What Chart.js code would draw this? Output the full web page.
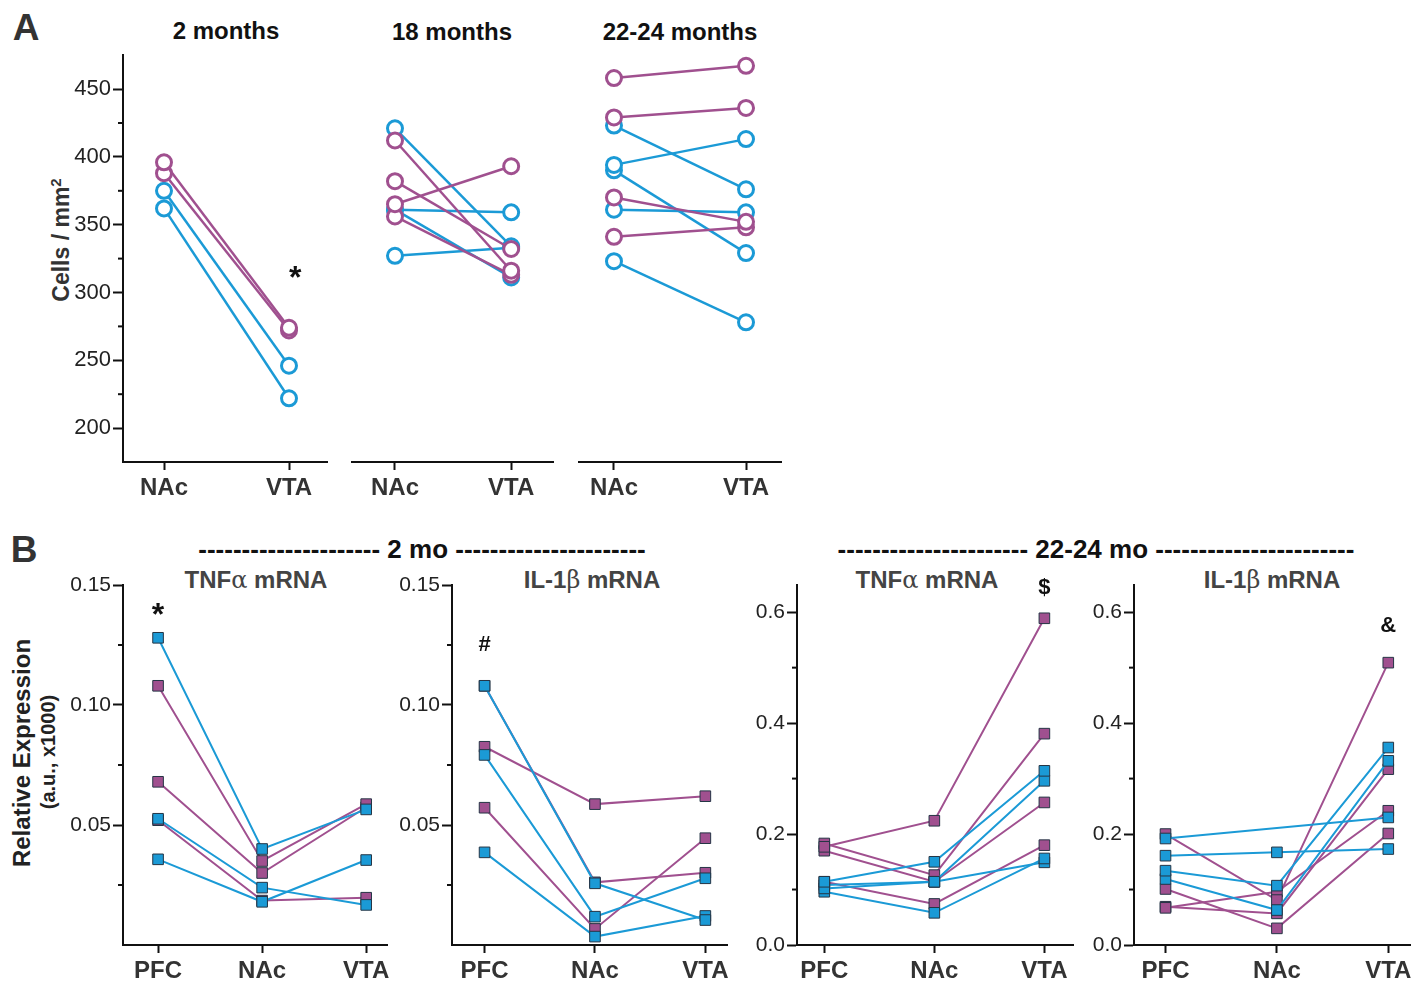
<!DOCTYPE html>
<html lang="en">
<head>
<meta charset="UTF-8">
<title>Cell density and cytokine mRNA</title>
<script src="https://cdn.jsdelivr.net/npm/chart.js"></script>
<style>
  body{margin:0; background:#fff; font-family:"Liberation Sans", Arial, sans-serif;}
  #page{position:relative; width:1417px; height:986px; overflow:hidden;}
  .box{position:absolute;}
  .lbl{position:absolute; transform:translate(-50%,-50%); white-space:nowrap; font-weight:bold;}
  .rot{transform:translate(-50%,-50%) rotate(-90deg);}
  .gk{font-family:"DejaVu Serif", serif; font-weight:normal;}
</style>
</head>
<body>
<div id="page">
  <!-- panel A labels -->
  <div class="lbl" style="left:26px;top:28px;font-size:37px;color:#333">A</div>
  <div class="lbl" style="left:226px;top:31px;font-size:24px;color:#111">2 months</div>
  <div class="lbl" style="left:452px;top:32px;font-size:24px;color:#111">18 months</div>
  <div class="lbl" style="left:680px;top:32px;font-size:24px;color:#111">22-24 months</div>
  <div class="lbl rot" style="left:61px;top:240px;font-size:23px;color:#333">Cells / mm<sup style="font-size:15px">2</sup></div>

  <!-- panel B labels -->
  <div class="lbl" style="left:24px;top:550px;font-size:37px;color:#333">B</div>
  <div class="lbl" style="left:422px;top:549px;font-size:26px;color:#111">--------------------- 2 mo ----------------------</div>
  <div class="lbl" style="left:1096px;top:549px;font-size:26px;color:#111">---------------------- 22-24 mo -----------------------</div>
  <div class="lbl" style="left:256px;top:580px;font-size:24px;color:#444">TNF<span class="gk">α</span> mRNA</div>
  <div class="lbl" style="left:592px;top:580px;font-size:24px;color:#444">IL-1<span class="gk">β</span> mRNA</div>
  <div class="lbl" style="left:927px;top:580px;font-size:24px;color:#444">TNF<span class="gk">α</span> mRNA</div>
  <div class="lbl" style="left:1272px;top:580px;font-size:24px;color:#444">IL-1<span class="gk">β</span> mRNA</div>
  <div class="lbl rot" style="left:22px;top:753px;font-size:24px;color:#222">Relative Expression</div>
  <div class="lbl rot" style="left:48px;top:752px;font-size:20px;color:#222">(a.u., x1000)</div>
</div>
<script>
  // panel A: cells / mm2, one row per animal [NAc, VTA]
  const regionsA = ['NAc', 'VTA'];
  const a2moPurple = [[396, 274], [388, 272]];
  const a2moBlue = [[375, 246], [362, 222]];
  const a18moPurple = [[412, 316], [382, 332], [365, 393], [356, 313]];
  const a18moBlue = [[421, 334], [361, 359], [361, 311], [327, 333]];
  const a22moPurple = [[458, 467], [429, 436], [370, 352], [341, 348]];
  const a22moBlue = [[423, 376], [394, 413], [390, 329], [361, 359], [323, 278]];
  const ticksA = [200, 250, 300, 350, 400, 450];
  const minorA = [225, 275, 325, 375, 425];

  // panel B: relative expression, one row per animal [PFC, NAc, VTA]
  const regionsB = ['PFC', 'NAc', 'VTA'];
  const tnf2moBlue = [[0.128, 0.040, 0.0565], [0.0526, 0.0239, 0.0167], [0.0357, 0.018, 0.0354]];
  const tnf2moPurple = [[0.108, 0.035, 0.0587], [0.068, 0.030, 0.0574], [0.052, 0.0185, 0.0197]];
  const il2moBlue = [[0.108, 0.0257, 0.0104], [0.0792, 0.0118, 0.0278], [0.0386, 0.0035, 0.0121]];
  const il2moPurple = [[0.0826, 0.0587, 0.062], [0.0572, 0.0067, 0.0445], [0.108, 0.0261, 0.0301]];
  const tnf22moBlue = [[0.114, 0.150, 0.314], [0.102, 0.114, 0.296], [0.096, 0.058, 0.156], [0.108, 0.114, 0.149]];
  const tnf22moPurple = [[0.177, 0.224, 0.589], [0.183, 0.126, 0.381], [0.170, 0.114, 0.257], [0.114, 0.074, 0.180]];
  const il22moBlue = [[0.192, null, 0.230], [0.161, 0.167, 0.173], [0.134, 0.107, 0.356], [0.119, 0.063, 0.332]];
  const il22moPurple = [[0.200, 0.081, 0.509], [0.101, 0.030, 0.201], [0.067, 0.096, 0.242], [0.069, 0.057, 0.317]];
  const ticks2mo = [0.05, 0.10, 0.15];
  const minor2mo = [0.025, 0.075, 0.125];
  const ticks22mo = [0, 0.2, 0.4, 0.6];
  const minor22mo = [0.1, 0.3, 0.5];

  const purple = '#a0508f';
  const blue = '#1b9ad6';
  const font = '"Liberation Sans", Arial, sans-serif';

  // short ticks between the labelled ones
  Chart.register({
    id: 'minorTicks',
    afterDraw(chart, args, opts) {
      if (!opts.values || !chart.options.scales.y.display) return;
      const ctx = chart.ctx, y = chart.scales.y, x0 = chart.chartArea.left;
      ctx.save();
      ctx.strokeStyle = '#111';
      ctx.lineWidth = 2;
      opts.values.forEach(v => {
        const py = y.getPixelForValue(v);
        ctx.beginPath(); ctx.moveTo(x0 - 5, py); ctx.lineTo(x0, py); ctx.stroke();
      });
      ctx.restore();
    }
  });
  // significance symbols
  Chart.register({
    id: 'marks',
    afterDatasetsDraw(chart, args, opts) {
      if (!opts.items) return;
      const ctx = chart.ctx;
      ctx.save();
      ctx.fillStyle = '#111';
      ctx.textAlign = 'center';
      ctx.textBaseline = 'middle';
      opts.items.forEach(m => {
        ctx.font = 'bold ' + m.size + 'px ' + font;
        ctx.fillText(m.text, chart.scales.x.getPixelForValue(m.x), chart.scales.y.getPixelForValue(m.y));
      });
      ctx.restore();
    }
  });

  function circles(rows, color) {
    return rows.map(r => ({
      data: r.map((v, i) => ({x: i, y: v})),
      borderColor: color, borderWidth: 2.5,
      pointStyle: 'circle', pointRadius: 7.5, pointBorderWidth: 3,
      pointBorderColor: color, pointBackgroundColor: '#fff'
    }));
  }
  function squares(rows, color) {
    return rows.map(r => ({
      data: r.map((v, i) => ({x: i, y: v})),
      borderColor: color, borderWidth: 2,
      pointStyle: 'rect', pointRadius: 7.5, pointBorderWidth: 1,
      pointBorderColor: '#253545', pointBackgroundColor: color
    }));
  }

  function makeChart(g, labels, datasets, y) {
    const padL = g.yw ? 0 : 12, padT = 15, padR = 20, xH = 50;
    const left = g.l - g.yw - padL, top = g.t - padT;
    const div = document.createElement('div');
    div.className = 'box';
    div.style.left = left + 'px';
    div.style.top = top + 'px';
    div.style.width = (g.r + padR - left) + 'px';
    div.style.height = (g.b + xH - top) + 'px';
    const cv = document.createElement('canvas');
    div.appendChild(cv);
    document.getElementById('page').appendChild(div);

    new Chart(cv, {
      type: 'line',
      data: {datasets: datasets},
      options: {
        responsive: true,
        maintainAspectRatio: false,
        animation: false,
        spanGaps: true,
        layout: {padding: {left: padL, top: padT, right: padR, bottom: 0}},
        elements: {line: {tension: 0}},
        datasets: {line: {clip: false}},
        plugins: {
          legend: {display: false},
          tooltip: {enabled: false},
          minorTicks: {values: y.minor},
          marks: {items: y.marks}
        },
        scales: {
          x: {
            type: 'linear', min: g.xmin, max: g.xmax,
            afterBuildTicks: s => { s.ticks = labels.map((_, i) => ({value: i})); },
            afterFit: s => { s.height = xH; },
            ticks: {callback: v => labels[v], autoSkip: false, maxRotation: 0, padding: 4,
                    color: '#333', font: {family: font, size: 24, weight: 'bold'}},
            grid: {drawOnChartArea: false, tickLength: 8, tickWidth: 2, tickColor: '#111'},
            border: {color: '#111', width: 2}
          },
          y: {
            type: 'linear', min: y.min, max: y.max, display: g.yw > 0,
            afterBuildTicks: s => { s.ticks = y.major.map(v => ({value: v})); },
            afterFit: s => { s.width = g.yw; },
            ticks: {callback: y.fmt, padding: 2, color: '#222', font: {family: font, size: y.fs}},
            grid: {drawOnChartArea: false, tickLength: 10, tickWidth: 2, tickColor: '#111'},
            border: {color: '#111', width: 2}
          }
        }
      }
    });
  }

  const yA = {min: 175, max: 475, major: ticksA, minor: minorA, fs: 22, fmt: v => String(v)};
  const yB2 = {min: 0, max: 0.15, major: ticks2mo, minor: minor2mo, fs: 21, fmt: v => v.toFixed(2)};
  const yB22 = {min: 0, max: 0.649, major: ticks22mo, minor: minor22mo, fs: 21, fmt: v => v.toFixed(1)};

  makeChart({l: 123, r: 327, t: 55, b: 462, yw: 83, xmin: -0.328, xmax: 1.304}, regionsA,
    circles(a2moPurple, purple).concat(circles(a2moBlue, blue)),
    Object.assign({}, yA, {marks: [{x: 1.05, y: 310, text: '*', size: 32}]}));
  makeChart({l: 352, r: 553, t: 55, b: 462, yw: 0, xmin: -0.37, xmax: 1.36}, regionsA,
    circles(a18moPurple, purple).concat(circles(a18moBlue, blue)), yA);
  makeChart({l: 579, r: 781, t: 55, b: 462, yw: 0, xmin: -0.265, xmax: 1.265}, regionsA,
    circles(a22moPurple, purple).concat(circles(a22moBlue, blue)), yA);

  makeChart({l: 123, r: 387, t: 585, b: 945, yw: 83, xmin: -0.337, xmax: 2.2}, regionsB,
    squares(tnf2moBlue, blue).concat(squares(tnf2moPurple, purple)),
    Object.assign({}, yB2, {marks: [{x: 0, y: 0.137, text: '*', size: 32}]}));
  makeChart({l: 452, r: 727, t: 585, b: 945, yw: 70, xmin: -0.295, xmax: 2.196}, regionsB,
    squares(il2moBlue, blue).concat(squares(il2moPurple, purple)),
    Object.assign({}, yB2, {marks: [{x: 0, y: 0.125, text: '#', size: 22}]}));
  makeChart({l: 797, r: 1073, t: 585, b: 945, yw: 60, xmin: -0.248, xmax: 2.26}, regionsB,
    squares(tnf22moBlue, blue).concat(squares(tnf22moPurple, purple)),
    Object.assign({}, yB22, {marks: [{x: 2, y: 0.644, text: '$', size: 22}]}));
  makeChart({l: 1134, r: 1410, t: 585, b: 945, yw: 55, xmin: -0.283, xmax: 2.195}, regionsB,
    squares(il22moBlue, blue).concat(squares(il22moPurple, purple)),
    Object.assign({}, yB22, {marks: [{x: 2, y: 0.575, text: '&', size: 22}]}));
</script>
</body>
</html>
